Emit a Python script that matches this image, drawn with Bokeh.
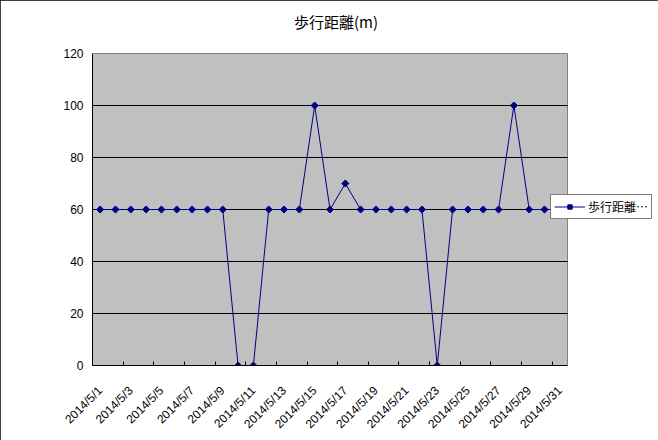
import math
from bokeh.plotting import figure
from bokeh.models import Range1d, FixedTicker, Legend, LegendItem, ColumnDataSource, BoxAnnotation, Label
from bokeh.embed import file_html
from bokeh.resources import INLINE

dates = ["2014/5/1", "2014/5/2", "2014/5/3", "2014/5/4", "2014/5/5", "2014/5/6",
         "2014/5/7", "2014/5/8", "2014/5/9", "2014/5/10", "2014/5/11", "2014/5/12",
         "2014/5/13", "2014/5/14", "2014/5/15", "2014/5/16", "2014/5/17", "2014/5/18",
         "2014/5/19", "2014/5/20", "2014/5/21", "2014/5/22", "2014/5/23", "2014/5/24",
         "2014/5/25", "2014/5/26", "2014/5/27", "2014/5/28", "2014/5/29", "2014/5/30",
         "2014/5/31"]
distance = [60, 60, 60, 60, 60, 60, 60, 60, 60, 0, 0, 60, 60, 60, 100, 60, 70, 60,
            60, 60, 60, 60, 0, 60, 60, 60, 60, 100, 60, 60, 60]
y_ticks = [0, 20, 40, 60, 80, 100, 120]
chart_title = "歩行距離(m)"
legend_label = "歩行距離…"

n = len(dates)
pos = list(range(1, n + 1))
src = ColumnDataSource(dict(x=pos, y=distance, d=dates))

# layout (pixels)
W, H = 658, 440
left_px, plot_w, frame_w = 92, 475, 564
top_px, plot_h, bottom_px = 2, 312, 75
frame_h = H - top_px - bottom_px
x_end = n + 0.5 + (frame_w - plot_w) * n / plot_w
y_end = y_ticks[-1] + (frame_h - plot_h) * (y_ticks[-1] - y_ticks[0]) / plot_h

p = figure(width=W, height=H, output_backend="svg", toolbar_location=None,
           x_range=Range1d(0.5, x_end), y_range=Range1d(y_ticks[0], y_end),
           min_border_left=left_px, min_border_right=W - left_px - frame_w,
           min_border_top=top_px, min_border_bottom=bottom_px)
p.styles = {"outline": "1px solid #000000", "outline-offset": "-1px"}

p.background_fill_color = "#FFFFFF"
p.border_fill_color = "#FFFFFF"
p.outline_line_color = None

# plot area (gray) limited to the category span
p.add_layout(BoxAnnotation(left=0.5, right=n + 0.5, bottom=y_ticks[0], top=y_ticks[-1],
                           fill_color="#C0C0C0", fill_alpha=1, level="underlay",
                           line_color="#808080", line_width=1, line_alpha=1))

p.xgrid.visible = False
p.ygrid.visible = False
grid_y = y_ticks[1:-1]
p.segment(x0=[0.5] * len(grid_y), x1=[n + 0.5] * len(grid_y), y0=grid_y, y1=grid_y,
          line_color="#000000", line_width=1)

# chart title
p.add_layout(Label(x=(n + 1) / 2, y=y_ticks[-1], x_offset=6, y_offset=32,
                   text=chart_title, text_align="center", text_baseline="middle",
                   text_font="Noto Sans CJK JP", text_font_size="15px",
                   text_color="#000000"))

xa = p.xaxis[0]
xa.bounds = (0.5, n + 0.5)
xa.ticker = FixedTicker(ticks=pos[::2], minor_ticks=[v + 0.5 for v in pos[1::2]])
xa.major_label_overrides = {pos[i]: dates[i] for i in range(0, n, 2)}
xa.major_label_orientation = math.pi / 4
xa.major_tick_in = 0
xa.major_tick_out = 0
xa.minor_tick_in = 4
xa.minor_tick_out = 0
xa.minor_tick_line_color = "#000000"
xa.axis_line_color = "#000000"
xa.major_label_text_font = "Liberation Sans"
xa.major_label_text_font_size = "12px"
xa.major_label_text_color = "#000000"
xa.major_label_standoff = 23

ya = p.yaxis[0]
ya.bounds = (y_ticks[0], y_ticks[-1])
ya.ticker = FixedTicker(ticks=y_ticks)
ya.major_tick_in = 0
ya.major_tick_out = 0
ya.minor_tick_line_color = None
ya.axis_line_color = "#000000"
ya.major_label_text_font = "Liberation Sans"
ya.major_label_text_font_size = "12px"
ya.major_label_text_color = "#000000"
ya.major_label_standoff = 9

line_r = p.line("x", "y", source=src, line_color="#000080", line_width=1)
pt_r = p.scatter("x", "y", source=src, marker="square", angle=math.pi / 4, size=5,
                 fill_color="#000080", line_color="#000080")

legend = Legend(items=[LegendItem(label=legend_label, renderers=[line_r, pt_r])],
                location=(458, 146))
legend.border_line_color = "#000000"
legend.border_line_width = 1
legend.background_fill_color = "#FFFFFF"
legend.background_fill_alpha = 1
legend.label_text_font = "Noto Sans CJK JP"
legend.label_text_font_size = "12px"
legend.label_text_color = "#000000"
legend.glyph_width = 31
legend.glyph_height = 11
legend.label_height = 11
legend.label_standoff = 3
legend.padding = 3
legend.spacing = 0
legend.margin = 0
p.add_layout(legend)

open("out.html", "w").write(file_html(p, INLINE))
